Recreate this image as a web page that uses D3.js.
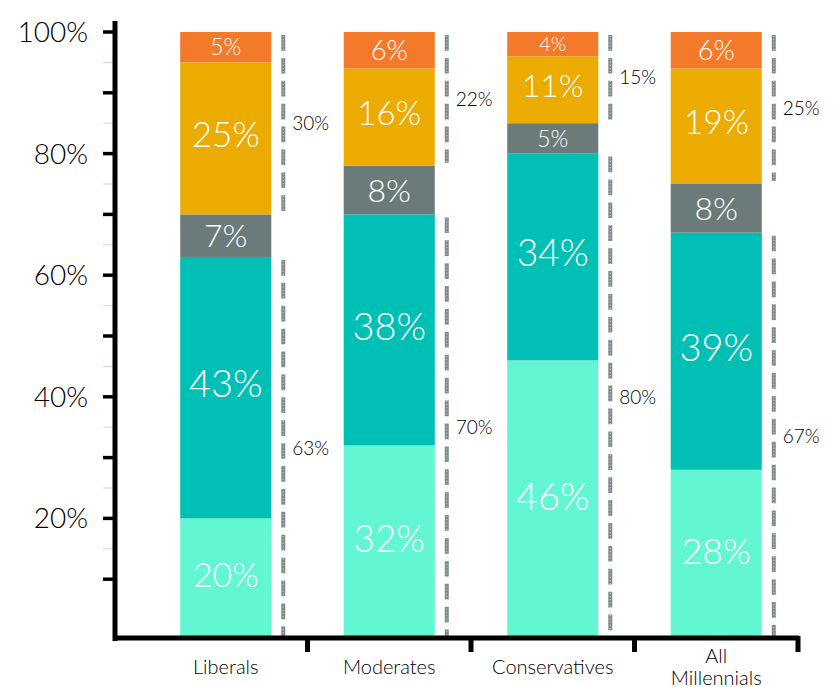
<!DOCTYPE html>
<html>
<head>
<meta charset="utf-8">
<script src="https://cdn.jsdelivr.net/npm/d3@7/dist/d3.min.js"></script>
<style>
  html, body { margin: 0; padding: 0; background: #ffffff; }
  svg { display: block; }
  text { font-family: "Lato", "Open Sans", sans-serif; font-weight: 300; }
</style>
</head>
<body>
<svg id="chart" width="837" height="687"></svg>
<script>
// ---- data ----
const categories = ["Liberals", "Moderates", "Conservatives", "All Millennials"];
const seriesKeys = ["s1", "s2", "s3", "s4", "s5"]; // bottom to top
const s1Values = [20, 32, 46, 28];
const s2Values = [43, 38, 34, 39];
const s3Values = [7, 8, 5, 8];
const s4Values = [25, 16, 11, 19];
const s5Values = [5, 6, 4, 6];
const yTickLabels = [20, 40, 60, 80, 100];
const seriesColors = ["#63f6d3", "#00bfb5", "#6b7b79", "#ebab00", "#f47a2b"];

const rows = categories.map((c, i) => ({
  category: c,
  s1: s1Values[i], s2: s2Values[i], s3: s3Values[i], s4: s4Values[i], s5: s5Values[i]
}));

// ---- layout ----
const svg = d3.select("#chart");
const x = d3.scaleBand().domain(categories).range([144, 798]).paddingInner(0.443).paddingOuter(0.2215);
const y = d3.scaleLinear().domain([0, 100]).range([640, 32]);
const color = d3.scaleOrdinal().domain(seriesKeys).range(seriesColors);

const stack = d3.stack().keys(seriesKeys);
const stacked = stack(rows);

// bars
const layers = svg.append("g").selectAll("g")
  .data(stacked).join("g")
  .attr("fill", d => color(d.key));

layers.selectAll("rect")
  .data(d => d.map(p => ({ p, key: d.key })))
  .join("rect")
  .attr("x", d => x(d.p.data.category))
  .attr("width", x.bandwidth())
  .attr("y", d => y(d.p[1]))
  .attr("height", d => y(d.p[0]) - y(d.p[1]));

// segment labels
function labelSize(h) {
  if (h < 50) return Math.max(20, Math.min(32, h * 0.75));
  return Math.min(38, 31 + (h - 50) * 0.04);
}
layers.selectAll("text")
  .data(d => d.map(p => ({ p, key: d.key })))
  .join("text")
  .attr("x", d => x(d.p.data.category) + x.bandwidth() / 2)
  .attr("y", d => {
    const h = y(d.p[0]) - y(d.p[1]);
    return (y(d.p[0]) + y(d.p[1])) / 2 - (h > 60 ? 4 : 0);
  })
  .attr("dy", "0.36em")
  .attr("text-anchor", "middle")
  .attr("fill", "#ffffff")
  .style("font-size", d => labelSize(y(d.p[0]) - y(d.p[1])) + "px")
  .text(d => (d.p[1] - d.p[0]) + "%");

// brackets
const brackets = [];
rows.forEach(r => {
  const upper = r.s4 + r.s5;
  const lower = r.s1 + r.s2;
  brackets.push({ category: r.category, from: 100, to: 100 - upper, value: upper });
  brackets.push({ category: r.category, from: lower, to: 0, value: lower });
});
const bg = svg.append("g");
brackets.forEach(b => {
  const bx = x(b.category) + x.bandwidth() + 12;
  const y1 = y(b.from) + 3, y2 = y(b.to) - 3;
  bg.append("line").attr("x1", bx).attr("x2", bx).attr("y1", y1).attr("y2", y2)
    .attr("stroke", "#7f8b8b").attr("stroke-width", 4).attr("stroke-dasharray", "15.7 7.2");
  bg.append("line").attr("x1", bx).attr("x2", bx).attr("y1", y1 + 1).attr("y2", y2)
    .attr("stroke", "#d8dddd").attr("stroke-width", 1).attr("stroke-dasharray", "1 2.2");
  bg.append("text").attr("x", bx + 9).attr("y", (y(b.from) + y(b.to)) / 2)
    .attr("dy", "0.36em").attr("fill", "#000").style("font-size", "19px")
    .text(b.value + "%");
});

// y axis
const ax = svg.append("g");
d3.range(15, 100, 10).forEach(v => {
  ax.append("line").attr("x1", 103).attr("x2", 114).attr("y1", y(v)).attr("y2", y(v))
    .attr("stroke", "#f3c9cf").attr("stroke-width", 1);
});
d3.range(10, 101, 10).forEach(v => {
  ax.append("line").attr("x1", 103).attr("x2", 114).attr("y1", y(v)).attr("y2", y(v))
    .attr("stroke", "#000").attr("stroke-width", 3.5);
});
ax.append("line").attr("x1", 115).attr("x2", 115).attr("y1", 21).attr("y2", 641)
  .attr("stroke", "#000").attr("stroke-width", 5);
ax.selectAll("text.yl").data(yTickLabels).join("text")
  .attr("class", "yl")
  .attr("x", 88).attr("y", d => y(d)).attr("dy", "0.36em")
  .attr("text-anchor", "end").attr("fill", "#000")
  .style("font-size", "28px")
  .text(d => d + "%");

// x axis
const step = x.step();
const bounds = categories.map(c => x(c) + x.bandwidth() / 2 + step / 2);
svg.append("line").attr("x1", 113).attr("x2", 799).attr("y1", 638).attr("y2", 638)
  .attr("stroke", "#000").attr("stroke-width", 5);
bounds.forEach(bx => {
  svg.append("line").attr("x1", bx).attr("x2", bx).attr("y1", 636).attr("y2", 652)
    .attr("stroke", "#000").attr("stroke-width", 5);
});
svg.selectAll("text.xl").data(categories).join("text")
  .attr("class", "xl")
  .attr("x", d => x(d) + x.bandwidth() / 2)
  .attr("y", 674)
  .attr("text-anchor", "middle").attr("fill", "#000")
  .style("font-size", "20px")
  .each(function (d) {
    const t = d3.select(this);
    const words = d.length > 14 ? d.split(" ") : [d];
    words.forEach((w, i) => {
      t.append("tspan").attr("x", x(d) + x.bandwidth() / 2)
        .attr("dy", i === 0 ? -(words.length - 1) * 11.5 : 22)
        .text(w);
    });
  });
</script>
</body>
</html>
